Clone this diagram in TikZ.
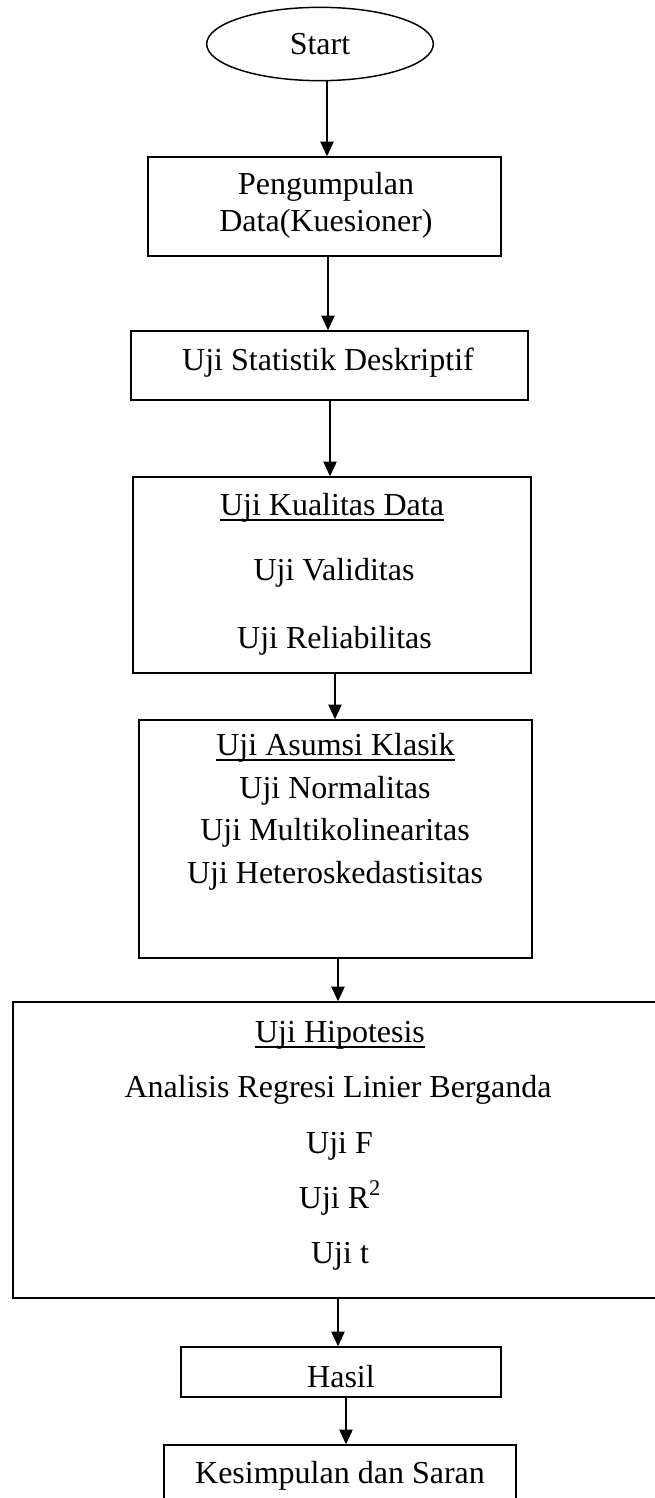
\documentclass[tikz,border=0pt]{standalone}
\usepackage{fontspec}
\setmainfont{Liberation Serif}
\usetikzlibrary{arrows.meta,shapes.geometric,fit,calc}
\begin{document}
\begin{tikzpicture}[x=0.75pt,y=-0.75pt,
  box/.style={draw, line width=1.1pt, inner sep=0pt, rectangle},
  txt/.style={inner sep=0pt, anchor=base, font=\fontsize{24}{29}\selectfont},
  uline/.style={line width=1pt},
  arr/.style={line width=1.1pt, -{Triangle[length=11pt,width=10pt]}}]
\useasboundingbox (0,0) rectangle (655,1498);
\fill[white] (0,0) rectangle (655,1498);

% start
\node[draw, ellipse, line width=1.1pt, minimum width=170pt, minimum height=55pt,
      inner sep=0pt, font=\fontsize{24}{29}\selectfont] (start) at (320,44) {Start};

% boxes
\node[box, fit={(148,157) (501,256)}] (b1) {};
\node[box, fit={(131,331) (528,400)}] (b2) {};
\node[box, fit={(133,477) (531,673)}] (b3) {};
\node[box, fit={(139,720) (532,958)}] (b4) {};
\node[box, fit={(13,1002) (660,1298)}] (b5) {};
\node[box, fit={(181,1347) (501,1397)}] (b6) {};
\node[box, fit={(164,1445) (516,1510)}] (b7) {};

% texts
\node[txt] (t1a) at (326,195) {Pengumpulan};
\node[txt] (t1b) at (326,232) {Data(Kuesioner)};
\node[txt] (t2) at (328,370) {Uji Statistik Deskriptif};
\node[txt] (t3a) at (332,515) {Uji Kualitas Data};
\node[txt] (t3b) at (334,580) {Uji Validitas};
\node[txt] (t3c) at (334.5,648) {Uji Reliabilitas};
\node[txt] (t4a) at (335.5,755) {Uji Asumsi Klasik};
\node[txt] (t4b) at (335,798) {Uji Normalitas};
\node[txt] (t4c) at (335,840) {Uji Multikolinearitas};
\node[txt] (t4d) at (335,883) {Uji Heteroskedastisitas};
\node[txt] (t5a) at (340,1042) {Uji Hipotesis};
\node[txt] (t5b) at (338,1097) {Analisis Regresi Linier Berganda};
\node[txt] (t5c) at (339.5,1153) {Uji F};
\node[txt] (t5d) at (340,1208) {Uji R\textsuperscript{2}};
\node[txt] (t5e) at (340,1263) {Uji t};
\node[txt] (t6) at (341,1387) {Hasil};
\node[txt] (t7) at (340,1483) {Kesimpulan dan Saran};

% underlines
\foreach \n in {t3a,t4a,t5a}
  \draw[uline] ($(\n.base west)+(0,5)$) -- ($(\n.base east)+(0,5)$);

% connectors
\draw[arr] ($(start.south)+(7,0)$) -- ($(b1.north)+(2.5,0)$);
\draw[arr] ($(b1.south)+(3.5,0)$) -- ($(b2.north)+(-1.5,0)$);
\draw[arr] ($(b2.south)+(0.5,0)$) -- ($(b3.north)+(-2,0)$);
\draw[arr] ($(b3.south)+(3,0)$) -- ($(b4.north)+(-0.5,0)$);
\draw[arr] ($(b4.south)+(2.5,0)$) -- ($(b5.north)+(1.5,0)$);
\draw[arr] ($(b5.south)+(1.5,0)$) -- ($(b6.north)+(-3,0)$);
\draw[arr] ($(b6.south)+(5,0)$) -- ($(b7.north)+(6,0)$);
\end{tikzpicture}
\end{document}
